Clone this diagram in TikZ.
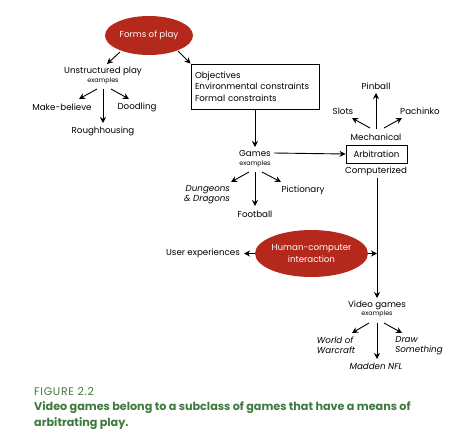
\documentclass[tikz,border=0pt]{standalone}
\usepackage{fontspec}
\setmainfont{Poppins}
\usetikzlibrary{shapes.geometric,arrows.meta}
\definecolor{myred}{RGB}{181,40,28}
\definecolor{mygreen}{RGB}{62,122,62}
\tikzset{
  txt/.style={inner sep=0pt,font=\fontsize{8.7}{10}\selectfont},
  small/.style={inner sep=0pt,font=\fontsize{6.4}{7}\selectfont},
  oval/.style={ellipse,fill=myred,text=white,inner sep=0pt,align=center,font=\fontsize{8.7}{11.5}\selectfont},
  rbox/.style={draw,line width=0.9pt,inner sep=0pt,align=left,font=\fontsize{8.7}{11.5}\selectfont},
  ital/.style={inner sep=0pt,align=left,font=\fontsize{8.7}{10}\selectfont\itshape},
  arr/.style={-{Stealth[length=6pt,width=6pt]},line width=0.9pt},
}
\begin{document}
\begin{tikzpicture}[x=1pt,y=-1pt]
\useasboundingbox (0,0) rectangle (474,442);
% Forms of play
\node[oval,minimum width=88pt,minimum height=39pt] (fop) at (149,35.5) {Forms of play};
\node[txt] (unst) at (103,71) {Unstructured play};
\node[small] (unex) at (103,81) {examples};
\node[txt] (make) at (62,107) {Make-believe};
\node[txt] (dood) at (137,107) {Doodling};
\node[txt] (rough) at (103,131) {Roughhousing};
\coordinate (ua) at (120,52);
\coordinate (ub) at (107,64);
\draw[arr] (ua) -- (ub);
\coordinate (u1) at (97,89); \coordinate (u1e) at (79,99);
\coordinate (u2) at (103,89); \coordinate (u2e) at (103,123);
\coordinate (u3) at (111,89); \coordinate (u3e) at (129,99);
\draw[arr] (u1) -- (u1e);
\draw[arr] (u2) -- (u2e);
\draw[arr] (u3) -- (u3e);
% constraints box
\node[rbox,minimum width=128pt,minimum height=45pt,text width=120pt] (box) at (255,86.5) {Objectives\\Environmental constraints\\Formal constraints};
\coordinate (fa) at (178,51);
\draw[arr] (fa) -- (box.north west);
% Games
\node[txt] (games) at (255,153) {Games};
\node[small] (gex) at (255,164) {examples};
\draw[arr] (box.south) -- (255,147);
\node[ital,align=right] (dd) at (207,195) {Dungeons\\\& Dragons};
\node[txt] (pict) at (303,190) {Pictionary};
\node[txt] (foot) at (255,214) {Football};
\coordinate (g1) at (249,172); \coordinate (g1e) at (231,182);
\coordinate (g2) at (255,172); \coordinate (g2e) at (255,206);
\coordinate (g3) at (262,172); \coordinate (g3e) at (281,182);
\draw[arr] (g1) -- (g1e);
\draw[arr] (g2) -- (g2e);
\draw[arr] (g3) -- (g3e);
% Arbitration
\node[draw,line width=0.9pt,minimum width=61pt,minimum height=18pt,inner sep=0pt,font=\fontsize{8.7}{10}\selectfont] (arb) at (376.5,154) {Arbitration};
\draw[arr] (games.east) ++(3,0) -- (arb.west);
\node[txt] (mech) at (376,137) {Mechanical};
\node[txt] (comp) at (376,171) {Computerized};
\node[txt] (pin) at (376,86) {Pinball};
\node[txt] (slots) at (343,111) {Slots};
\node[txt] (pach) at (420,111) {Pachinko};
\coordinate (m1) at (376,129); \coordinate (m1e) at (376,93);
\coordinate (m2) at (370,128); \coordinate (m2e) at (352,118);
\coordinate (m3) at (384,128); \coordinate (m3e) at (402,118);
\draw[arr] (m1) -- (m1e);
\draw[arr] (m2) -- (m2e);
\draw[arr] (m3) -- (m3e);
% HCI
\node[oval,minimum width=93pt,minimum height=47pt] (hci) at (311.5,253.5) {Human-computer\\interaction};
\node[txt] (ux) at (203,253) {User experiences};
\draw[arr] (hci.west) -- (244,253.5);
\coordinate (vj) at (377,253.5);
\draw[arr] (hci.east) -- (vj);
% Video games
\node[txt] (vg) at (377,305) {Video games};
\node[small] (vgex) at (377,314) {examples};
\coordinate (ct) at (377,178);
\draw[arr] (ct) -- (377,298);
\node[ital] (wow) at (336,345.5) {World of\\Warcraft};
\node[ital] (draw) at (419,345.5) {Draw\\Something};
\node[ital] (mad) at (376,366) {Madden NFL};
\coordinate (v1) at (369,323); \coordinate (v1e) at (352,333);
\coordinate (v2) at (377,323); \coordinate (v2e) at (377,359);
\coordinate (v3) at (384,323); \coordinate (v3e) at (402,333);
\draw[arr] (v1) -- (v1e);
\draw[arr] (v2) -- (v2e);
\draw[arr] (v3) -- (v3e);
% caption
\node[anchor=west,inner sep=0pt,text=mygreen,font=\fontsize{11}{12}\selectfont\addfontfeatures{LetterSpace=6}] (fig) at (34,391) {FIGURE 2.2};
\node[anchor=north west,inner sep=0pt,text=mygreen,align=left,font=\fontsize{11.2}{16.5}\selectfont\bfseries] (cap) at (34,401) {Video games belong to a subclass of games that have a means of\\arbitrating play.};
\end{tikzpicture}
\end{document}
